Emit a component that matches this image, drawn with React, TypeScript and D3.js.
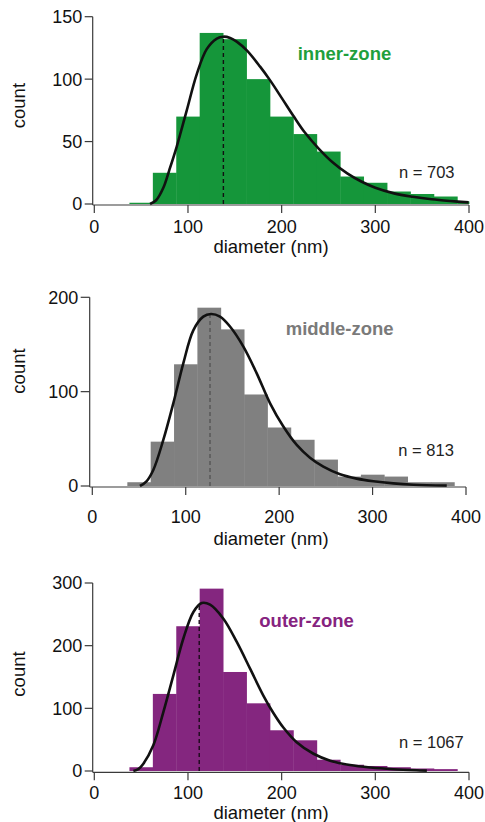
import React from "react";
import * as d3 from "d3";

// ---------- data ----------
const binWidth = 25;
const binStarts = [37.5, 62.5, 87.5, 112.5, 137.5, 162.5, 187.5, 212.5, 237.5, 262.5, 287.5, 312.5, 337.5, 362.5, 387.5];

const innerCounts = [1, 25, 70, 137, 132, 100, 70, 56, 42, 22, 17, 10, 8, 6, 2];
const middleCounts = [4, 47, 129, 189, 166, 97, 62, 49, 28, 10, 12, 10, 4, 4];
const outerCounts = [6, 123, 231, 291, 158, 108, 65, 49, 18, 10, 8, 6, 4, 3];

const innerFitX = [59.5, 66, 73.7, 80, 88, 98.7, 109.4, 120, 130.8, 137.8, 145, 152, 162.8, 177, 187.7, 200, 213, 225, 240, 255, 270, 285, 300, 320, 340, 360, 380, 399.6];
const innerFitY = [0, 3, 13, 27, 46, 75, 104, 124, 132.5, 134, 133, 130, 123, 110, 99, 85, 70, 57, 44, 33, 24.5, 18, 13, 8.5, 5.8, 3.8, 2.4, 1.3];

const middleFitX = [51, 58, 65.3, 76, 86.7, 97.4, 108.1, 118.8, 127, 136.7, 147.4, 161.7, 176, 190.3, 204.5, 218.8, 233, 247.3, 265.2, 283, 300.9, 322.3, 343.7, 379.4];
const middleFitY = [0, 5, 17, 48.8, 87.6, 130, 165, 179.5, 182.3, 179.5, 169, 147.7, 119.4, 87.6, 63, 43.5, 30, 20.5, 12.4, 7.8, 5, 2.8, 1.4, 0.4];

const outerFitX = [41.7, 47, 52.4, 63, 73.7, 84.4, 95, 105.8, 114.7, 123.6, 137.8, 152.1, 166.3, 180.6, 191, 202, 216, 234, 251.8, 273, 295, 319, 344, 355];
const outerFitY = [0, 3, 11.7, 41, 94, 152.7, 211, 253.7, 268, 265.4, 243, 205.9, 163.3, 120, 93, 69, 46, 27.5, 16.5, 9.5, 5.5, 2.8, 1.1, 0.6];

const innerPeak = 137.8;
const middlePeak = 126;
const outerPeak = 112;

const xTicks = [0, 100, 200, 300, 400];
const innerYTicks = [0, 50, 100, 150];
const middleYTicks = [0, 100, 200];
const outerYTicks = [0, 100, 200, 300];

const zoneNames = ["inner-zone", "middle-zone", "outer-zone"];
const nLabels = ["n = 703", "n = 813", "n = 1067"];

// ---------- layout ----------
type Layout = {
  x0: number; x1: number; yZero: number; yTopVal: number; yTopPx: number;
  spineX: number; axisY: number; tickBase: number; titleBase: number; titleX: number;
  countY: number; zoneX: number; zoneBase: number; nX: number; nBase: number;
  bar: string; zoneColor: string; dashColor: string; yTickLen: number;
};

const layouts: Layout[] = [
  { x0: 94.3, x1: 469, yZero: 204, yTopVal: 150, yTopPx: 16.7, spineX: 92.7, axisY: 205,
    tickBase: 233.3, titleBase: 252.5, titleX: 271, countY: 105.6, zoneX: 297.7, zoneBase: 60,
    nX: 399, nBase: 177.7, bar: "#15963a", zoneColor: "#1f9f3c", dashColor: "#111", yTickLen: 8 },
  { x0: 92.3, x1: 466, yZero: 486, yTopVal: 200, yTopPx: 297.3, spineX: 89.7, axisY: 487,
    tickBase: 523.3, titleBase: 544.5, titleX: 271, countY: 371, zoneX: 285.7, zoneBase: 335,
    nX: 398.3, nBase: 456, bar: "#808080", zoneColor: "#7a7a7a", dashColor: "#555", yTickLen: 9 },
  { x0: 94.3, x1: 469, yZero: 771, yTopVal: 300, yTopPx: 583, spineX: 92.7, axisY: 772.3,
    tickBase: 799.3, titleBase: 819.3, titleX: 271, countY: 674, zoneX: 259.3, zoneBase: 626.7,
    nX: 399, nBase: 747.7, bar: "#84267f", zoneColor: "#86237f", dashColor: "#1a0a1a", yTickLen: 8 },
];

const countsList = [innerCounts, middleCounts, outerCounts];
const fitXList = [innerFitX, middleFitX, outerFitX];
const fitYList = [innerFitY, middleFitY, outerFitY];
const peaks = [innerPeak, middlePeak, outerPeak];
const yTickList = [innerYTicks, middleYTicks, outerYTicks];

const FONT = "'Liberation Sans', Arial, Helvetica, sans-serif";

function Panel({ idx }: { idx: number }) {
  const L = layouts[idx];
  const counts = countsList[idx];
  const fx = fitXList[idx];
  const fy = fitYList[idx];
  const x = d3.scaleLinear().domain([0, 400]).range([L.x0, L.x1]);
  const y = d3.scaleLinear().domain([0, L.yTopVal]).range([L.yZero, L.yTopPx]);
  const pts: [number, number][] = fx.map((v, i) => [v, fy[i]]);
  const line = d3.line<[number, number]>()
    .x((d) => x(d[0]))
    .y((d) => y(d[1]))
    .curve(d3.curveCatmullRom.alpha(0.5));
  const peakY = d3.max(fy) ?? 0;
  const axisColor = "#3a3a3a";
  return (
    <g>
      {counts.map((c, i) => {
        const s = binStarts[i];
        const e = Math.min(s + binWidth, 400);
        return (
          <rect key={i} x={x(s)} y={y(c)} width={x(e) - x(s) + 0.4} height={L.yZero - y(c)} fill={L.bar} />
        );
      })}
      <line x1={x(peaks[idx])} x2={x(peaks[idx])} y1={L.yZero} y2={y(peakY)} stroke={L.dashColor}
        strokeWidth={1.4} strokeDasharray="4,3" />
      <path d={line(pts) ?? ""} fill="none" stroke="#111" strokeWidth={2.6} strokeLinejoin="round" />
      {/* y axis */}
      <line x1={L.spineX} x2={L.spineX} y1={y(L.yTopVal)} y2={L.axisY} stroke={axisColor} strokeWidth={1.2} />
      {yTickList[idx].map((t) => (
        <g key={t}>
          <line x1={L.spineX - L.yTickLen} x2={L.spineX} y1={y(t)} y2={y(t)} stroke={axisColor} strokeWidth={1.2} />
          <text x={L.spineX - L.yTickLen - 2.5} y={y(t)} dy="0.36em" textAnchor="end" fontSize={18}
            fontFamily={FONT} fill="#111">{t}</text>
        </g>
      ))}
      {/* x axis */}
      <line x1={L.spineX} x2={x(400)} y1={L.axisY} y2={L.axisY} stroke={axisColor} strokeWidth={1.2} />
      {xTicks.map((t) => (
        <g key={t}>
          <line x1={x(t)} x2={x(t)} y1={L.axisY} y2={L.axisY + 8} stroke={axisColor} strokeWidth={1.2} />
          <text x={x(t)} y={L.tickBase} textAnchor="middle" fontSize={18} fontFamily={FONT} fill="#111">{t}</text>
        </g>
      ))}
      <text x={L.titleX} y={L.titleBase} textAnchor="middle" fontSize={18.5} fontFamily={FONT} fill="#111">
        diameter (nm)
      </text>
      <text transform={`translate(18,${L.countY}) rotate(-90)`} textAnchor="middle" dy="0.36em"
        fontSize={18.5} fontFamily={FONT} fill="#111">count</text>
      <text x={L.zoneX} y={L.zoneBase} fontSize={18.5} fontWeight="bold" fontFamily={FONT} fill={L.zoneColor}>
        {zoneNames[idx]}
      </text>
      <text x={L.nX} y={L.nBase} fontSize={16.5} fontFamily={FONT} fill="#222">{nLabels[idx]}</text>
    </g>
  );
}

export default function App() {
  return (
    <svg width={485} height={822} style={{ position: "absolute", left: 0, top: 0, background: "#fff" }}>
      <rect x={0} y={0} width={485} height={822} fill="#fff" />
      {[0, 1, 2].map((i) => <Panel key={i} idx={i} />)}
    </svg>
  );
}
